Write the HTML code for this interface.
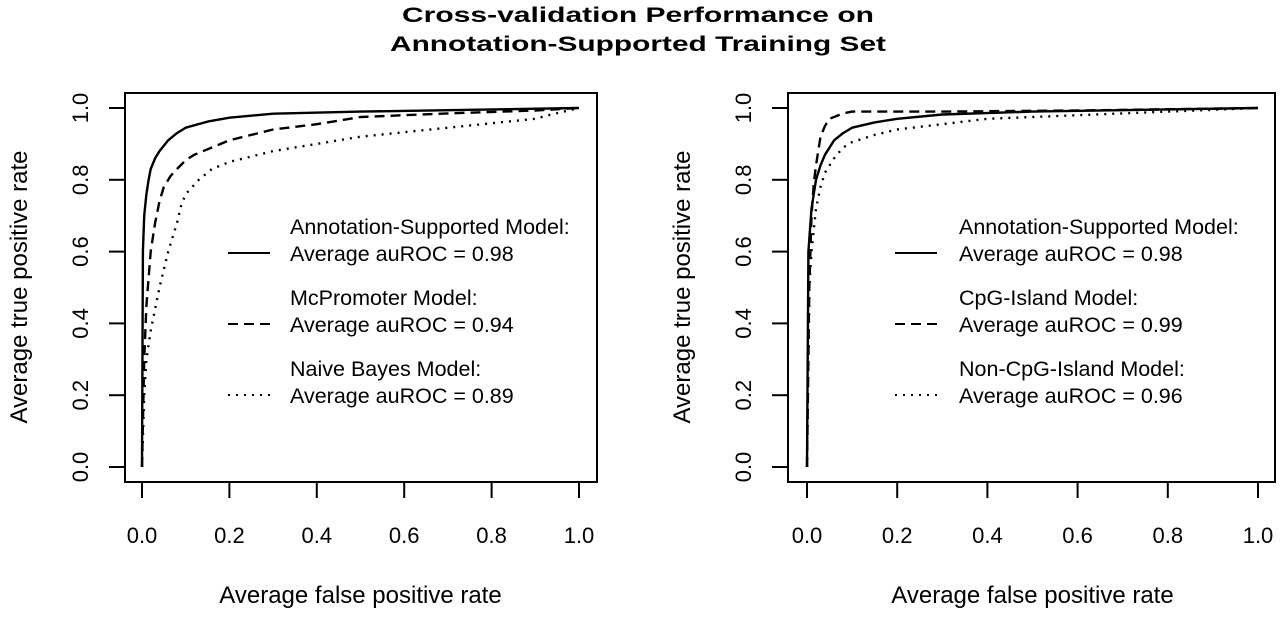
<!DOCTYPE html>
<html><head><meta charset="utf-8"><style>
html,body{margin:0;padding:0;background:#fff;}
svg text{font-family:"Liberation Sans",sans-serif;fill:#000;}
</style></head><body>
<svg id="c" width="1280" height="619" xmlns="http://www.w3.org/2000/svg">
<text x="638" y="22" text-anchor="middle" font-size="21" font-weight="bold" textLength="472" lengthAdjust="spacingAndGlyphs">Cross-validation Performance on</text>
<text x="638" y="51" text-anchor="middle" font-size="21" font-weight="bold" textLength="496" lengthAdjust="spacingAndGlyphs">Annotation-Supported Training Set</text>
</svg>
<script>
const xTicks=[0,0.2,0.4,0.6,0.8,1.0];
const yTicks=[0,0.2,0.4,0.6,0.8,1.0];
const tickLabels=["0.0","0.2","0.4","0.6","0.8","1.0"];
const leftNames=["Annotation-Supported Model:","McPromoter Model:","Naive Bayes Model:"];
const leftAuc=["0.98","0.94","0.89"];
const rightNames=["Annotation-Supported Model:","CpG-Island Model:","Non-CpG-Island Model:"];
const rightAuc=["0.98","0.99","0.96"];
const L_solid_x=[0,0.002,0.005,0.01,0.015,0.02,0.03,0.04,0.06,0.08,0.1,0.15,0.2,0.3,0.5,0.7,1];
const L_solid_y=[0,0.6,0.7,0.76,0.8,0.83,0.86,0.88,0.91,0.93,0.945,0.962,0.973,0.984,0.99,0.994,1];
const L_dash_x=[0,0.005,0.01,0.02,0.03,0.04,0.05,0.065,0.08,0.1,0.12,0.16,0.2,0.3,0.4,0.5,0.7,0.9,1];
const L_dash_y=[0,0.3,0.45,0.6,0.68,0.74,0.78,0.81,0.83,0.855,0.87,0.89,0.91,0.94,0.955,0.975,0.985,0.993,1];
const L_dot_x=[0,0.005,0.01,0.02,0.03,0.04,0.06,0.08,0.09,0.1,0.13,0.16,0.2,0.3,0.5,0.7,0.9,0.93,1];
const L_dot_y=[0,0.2,0.3,0.38,0.44,0.5,0.6,0.68,0.73,0.76,0.8,0.83,0.85,0.88,0.92,0.945,0.97,0.98,1];
const R_solid_x=[0,0.003,0.01,0.02,0.03,0.04,0.06,0.08,0.1,0.15,0.2,0.3,0.5,1];
const R_solid_y=[0,0.6,0.72,0.8,0.84,0.87,0.91,0.93,0.945,0.96,0.97,0.982,0.99,1];
const R_dash_x=[0,0.005,0.01,0.015,0.02,0.03,0.04,0.05,0.08,0.1,0.3,0.6,1];
const R_dash_y=[0,0.5,0.7,0.79,0.84,0.92,0.95,0.97,0.985,0.99,0.99,0.993,1];
const R_dot_x=[0,0.005,0.01,0.02,0.03,0.04,0.06,0.08,0.1,0.15,0.2,0.4,0.7,1];
const R_dot_y=[0,0.5,0.6,0.72,0.78,0.82,0.86,0.89,0.905,0.925,0.94,0.97,0.985,1];

const NS="http://www.w3.org/2000/svg";
const svg=document.getElementById('c');
function mk(tag,attrs,parent){const e=document.createElementNS(NS,tag);for(const k in attrs)e.setAttribute(k,attrs[k]);(parent||svg).appendChild(e);return e;}
const dashes={solid:"",dash:"10,6",dot:"2,6"};
function panel(p){
  const g=mk('g',{});
  
  
  const sx=v=>p.x0+v*(p.x1-p.x0), sy=v=>467+v*(108-467);
  const box=mk('rect',{x:p.bl,y:93,width:p.br-p.bl,height:389,fill:'none',stroke:'#000','stroke-width':2},g);
  
  
  xTicks.forEach((t,i)=>{
    const l=mk('line',{x1:sx(t),x2:sx(t),y1:482,y2:498,stroke:'#000','stroke-width':2},g);
    
    
    const tx=mk('text',{x:sx(t),y:543,'text-anchor':'middle','font-size':22},g);
    tx.textContent=tickLabels[i];
    
    
  });
  yTicks.forEach((t,i)=>{
    const l=mk('line',{x1:p.bl-16,x2:p.bl,y1:sy(t),y2:sy(t),stroke:'#000','stroke-width':2},g);
    
    
    const X=p.bl-37;
    const tx=mk('text',{x:X,y:sy(t),'text-anchor':'middle','font-size':22,transform:`rotate(-90 ${X} ${sy(t)})`},g);
    tx.textContent=tickLabels[i];
    
    
  });
  const xt=mk('text',{x:(p.x0+p.x1)/2,y:603,'text-anchor':'middle','font-size':24},g);
  xt.textContent='Average false positive rate';
  
  
  const YX=p.bl-98,YY=287;
  const yt=mk('text',{x:YX,y:YY,'text-anchor':'middle','font-size':24,transform:`rotate(-90 ${YX} ${YY})`},g);
  yt.textContent='Average true positive rate';
  
  
  p.series.forEach((s,i)=>{
    const d=s.x.map((v,j)=>(j?'L':'M')+sx(v).toFixed(1)+','+sy(s.y[j]).toFixed(1)).join(' ');
    const path=mk('path',{d:d,fill:'none',stroke:'#000','stroke-width':2.4,'stroke-dasharray':dashes[s.st],'stroke-linejoin':'round'},g);
    
    
    const ly=253+i*71;
    const ll=mk('line',{x1:p.lx,x2:p.lx+42,y1:ly,y2:ly,stroke:'#000','stroke-width':2,'stroke-dasharray':dashes[s.st]},g);
    
    
    const t1=mk('text',{x:p.tx,y:ly-19,'font-size':21.5},g);
    t1.textContent=p.names[i];
    
    
    const t2=mk('text',{x:p.tx,y:ly+8,'font-size':21.5},g);
    t2.textContent='Average auROC = '+p.auc[i];
    
    
  });
}
panel({name:'left-panel',bl:125,br:597,x0:142,x1:579,lx:228,tx:290,names:leftNames,auc:leftAuc,series:[
 {x:L_solid_x,y:L_solid_y,st:'solid'},{x:L_dash_x,y:L_dash_y,st:'dash'},{x:L_dot_x,y:L_dot_y,st:'dot'}]});
panel({name:'right-panel',bl:788,br:1275,x0:807,x1:1258,lx:895,tx:959,names:rightNames,auc:rightAuc,series:[
 {x:R_solid_x,y:R_solid_y,st:'solid'},{x:R_dash_x,y:R_dash_y,st:'dash'},{x:R_dot_x,y:R_dot_y,st:'dot'}]});
</script>
</body></html>
